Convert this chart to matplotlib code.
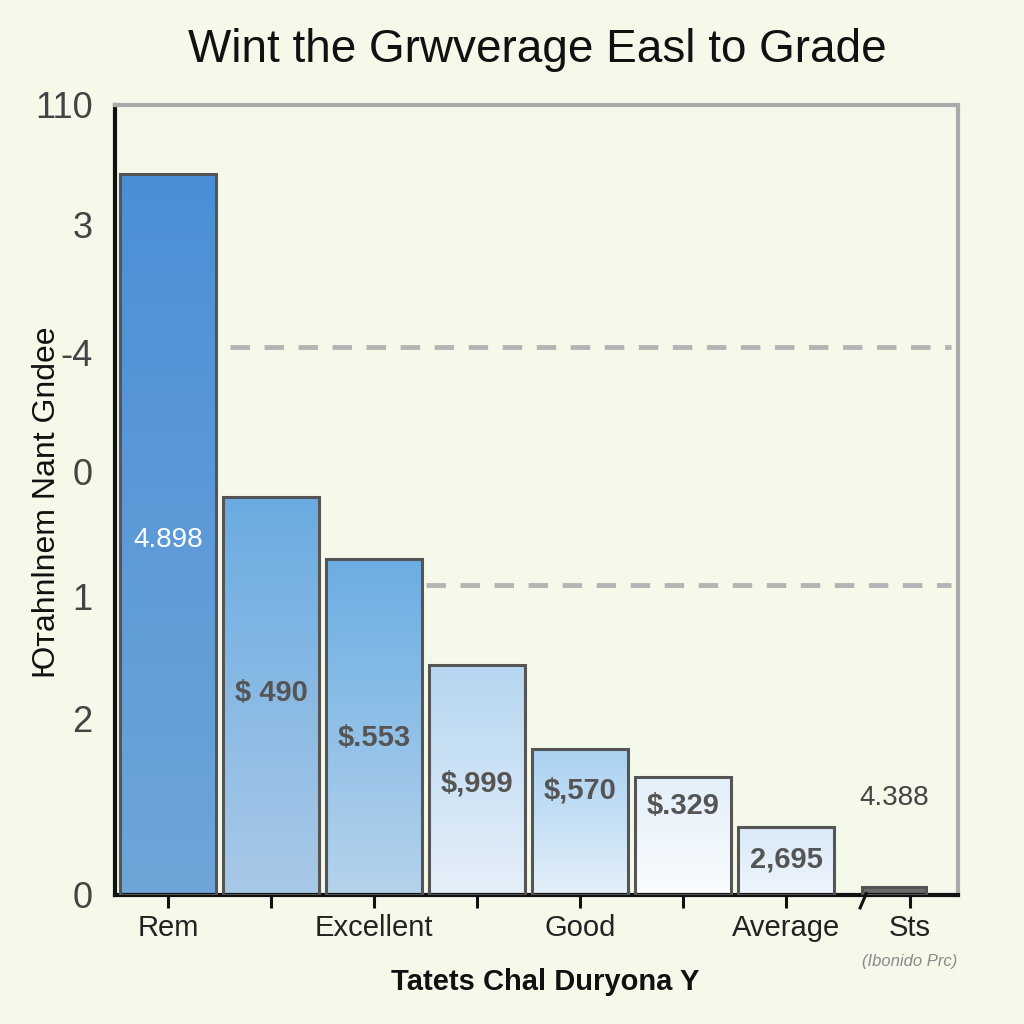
import numpy as np
import matplotlib
matplotlib.use("Agg")
from matplotlib import pyplot as plt
from matplotlib.colors import to_rgb

plt.rcParams['font.family'] = ['Liberation Sans', 'DejaVu Sans']

# ---- data ----
bar_pos = [0, 1, 2, 3, 4, 5, 6, 7.05]
heights = [100.4, 55.4, 46.8, 32.0, 20.3, 16.4, 9.5, 1.1]
value_labels = ["4.898", "$ 490", "$.553", "$,999", "$,570", "$.329", "2,695", "4.388"]
label_y = [49.4, 28.1, 21.9, 15.5, 14.5, 12.4, 5.0, 13.5]

top_colors = ['#4a8fd6', '#6aabe1', '#6bade3', '#b5d6f1', '#a9d1f1', '#e3effa', '#dae9f8', '#6b6b6b']
bottom_colors = ['#6fa5d9', '#a9c9e8', '#b5d3ec', '#e6f0f9', '#e5f0fa', '#fafcfe', '#eef5fc', '#6b6b6b']

ytick_vals = [0, 24.6, 41.5, 58.9, 75.6, 93.3, 110]
ytick_text = ["0", "2", "1", "0", "-4", "3", "110"]

xtick_pos = [0, 1, 2, 3, 4, 5, 6, 7.2]
xtick_text = ["Rem", "", "Excellent", "", "Good", "", "Average", "Sts"]

dash_levels = [76.3, 43.2]
dash_start = [0.6, 2.5]

BG = '#f4f9e9'

fig = plt.figure(figsize=(10.24, 10.24), dpi=100, facecolor=BG)
ax = fig.add_axes([0.1123, 0.126, 0.8232, 0.7715])
ax.set_facecolor(BG)

# dashed reference lines
for lvl, x0 in zip(dash_levels, dash_start):
    ax.hlines(lvl, x0, 7.6, colors='#b4b4b4', linestyles=(0, (4, 3)), linewidth=3.5, zorder=1)

# bars with vertical gradient
widths = [0.93] * 7 + [0.62]
bars = ax.bar(bar_pos, heights, width=widths, facecolor='none',
              edgecolor='#555555', linewidth=2.2, zorder=3)
for b, c_top, c_bot in zip(bars, top_colors, bottom_colors):
    t = np.linspace(0, 1, 256)[:, None]
    grad = (1 - t) * np.array(to_rgb(c_top)) + t * np.array(to_rgb(c_bot))
    x0, w, h = b.get_x(), b.get_width(), b.get_height()
    im = ax.imshow(grad[:, None, :], extent=[x0, x0 + w, 0, h], aspect='auto',
                   origin='upper', zorder=2)
    im.set_clip_path(b)

# value labels
for i, (x, y, s) in enumerate(zip(bar_pos, label_y, value_labels)):
    if i == 0:
        ax.text(x, y, s, ha='center', va='center', fontsize=20, color='white', zorder=5)
    elif i == 7:
        ax.text(x, y, s, ha='center', va='center', fontsize=20, color='#444444', zorder=5)
    else:
        ax.text(x, y, s, ha='center', va='center', fontsize=21, color='#555555',
                fontweight='bold', zorder=5)

ax.set_xlim(-0.515, 7.67)
ax.set_ylim(0, 110)

ax.set_yticks(ytick_vals)
ax.set_yticklabels(ytick_text, fontsize=26, color='#444444')
ax.tick_params(axis='y', length=0, pad=16)

ax.set_xticks(xtick_pos)
ax.set_xticklabels(xtick_text, fontsize=21, color='#222222')
ax.tick_params(axis='x', length=9, width=2.2, color='#111111', pad=5)

for side in ['left', 'bottom']:
    ax.spines[side].set_linewidth(3)
    ax.spines[side].set_color('#111111')
for side in ['top', 'right']:
    ax.spines[side].set_linewidth(3)
    ax.spines[side].set_color('#aaaaaa')

# axis break mark
ax.plot([6.72, 6.78], [-1.8, 0.2], color='#111111', linewidth=2.2, clip_on=False, zorder=6)

ax.set_ylabel("Ютahnlnem Nant Gndee", fontsize=23, color='#111111')
ax.yaxis.set_label_coords(-0.063, 0.497)
ax.set_xlabel("Tatets Chal Duryona Y", fontsize=21, fontweight='bold', color='#111111')
ax.xaxis.set_label_coords(0.51, -0.092)

ax.text(7.2, -9.2, "(Ibonido Prc)", ha='center', va='center', fontsize=12,
        style='italic', color='#8a8a8a', clip_on=False)

fig.text(0.525, 0.951, "Wint the Grwverage Easl to Grade", ha='center', va='center',
         fontsize=33, color='#111111')

fig.savefig("out.png", dpi=100, facecolor=BG)
